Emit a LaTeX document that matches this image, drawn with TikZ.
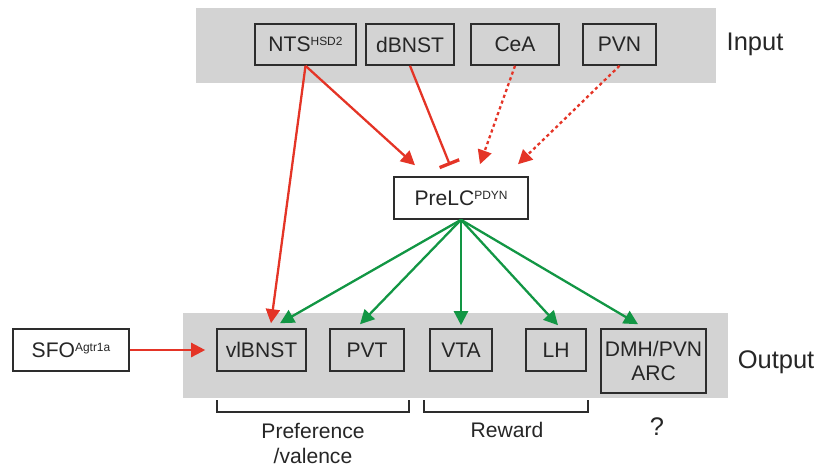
\documentclass[tikz,border=0pt]{standalone}
\usepackage{fontspec}
\setmainfont{Liberation Sans}
\usepackage{xcolor}
\usetikzlibrary{arrows.meta,calc}
\definecolor{bandgray}{RGB}{211,211,211}
\definecolor{edgegray}{RGB}{45,45,45}
\definecolor{exred}{RGB}{228,52,38}
\definecolor{outgreen}{RGB}{18,150,68}
\newcommand\supr[1]{\raisebox{3.4pt}{\fontsize{6.8}{7}\selectfont #1}}

\begin{document}
\begin{tikzpicture}[
  x=0.02cm,y=-0.02cm,
  band/.style={rectangle,fill=bandgray,inner sep=0pt},
  box/.style={rectangle,draw=edgegray,line width=0.9pt,minimum height=0.82cm,inner sep=2pt,align=center,text=black!85,font=\fontsize{12}{13.8}\selectfont},
  lbl/.style={align=center,text=black!85,font=\fontsize{12}{14.6}\selectfont},
  side/.style={text=black!85,font=\fontsize{14.5}{16}\selectfont},
  excit/.style={-{Triangle[length=8pt,width=8pt]},exred,line width=1.3pt},
  inhib/.style={-{Bar[width=12pt,line width=1.9pt]},exred,line width=1.3pt},
  dotarr/.style={excit,dash pattern=on 1.8pt off 1.7pt},
  outarr/.style={-{Triangle[length=8pt,width=8pt]},outgreen,line width=1.3pt},
  brk/.style={draw=edgegray,line width=1pt}
]
\useasboundingbox (0,0) rectangle (824,468);

\node[band,minimum width=10.4cm,minimum height=1.5cm] (inband) at (456,45.5) {};
\node[band,minimum width=10.9cm,minimum height=1.7cm] (outband) at (455.5,355.5) {};

\node[box,minimum width=2.02cm] (nts) at (305.5,44.5) {NTS\supr{HSD2}};
\node[box,minimum width=1.76cm] (dbnst) at (410,44.5) {dBNST};
\node[box,minimum width=1.76cm] (cea) at (515,44.5) {CeA};
\node[box,minimum width=1.46cm] (pvn) at (619.5,44.5) {PVN};
\node[side] (inlabel) at (755,44) {Input};

\node[box,fill=white,minimum width=2.68cm,minimum height=0.84cm] (prelc) at (461,198) {PreLC\supr{PDYN}};

\node[box,fill=white,minimum width=2.32cm,minimum height=0.84cm] (sfo) at (71,350) {SFO\supr{Agtr1a}};
\node[box,minimum width=1.78cm,minimum height=0.84cm] (vlbnst) at (261.5,350) {vlBNST};
\node[box,minimum width=1.48cm,minimum height=0.84cm] (pvt) at (367,350) {PVT};
\node[box,minimum width=1.24cm,minimum height=0.84cm] (vta) at (461,350) {VTA};
\node[box,minimum width=1.2cm,minimum height=0.84cm] (lh) at (556,350) {LH};
\node[box,minimum width=2.1cm,minimum height=1.28cm] (dmh) at (653.5,361) {DMH/PVN\\ARC};
\node[side] (outlabel) at (776,362) {Output};

\draw[brk] (217,400) -- (217,412) -- (409,412) -- (409,400);
\draw[brk] (424,400) -- (424,412) -- (588,412) -- (588,400);
\node[lbl] (pref) at (313,443.5) {Preference\\/valence};
\node[lbl] (reward) at (507,430) {Reward};
\node[side] (unknown) at (657,427) {?};

\draw[excit] (nts.south) -- ($(vlbnst.north)+(9.5,-5)$);
\draw[excit] (nts.south) -- ($(prelc.north)+(-46,-11)$);
\draw[inhib] (dbnst.south) -- ($(prelc.north)+(-11,-11)$);
\draw[dotarr] (cea.south) -- ($(prelc.north)+(19,-12)$);
\draw[dotarr] (pvn.south) -- ($(prelc.north)+(57,-12)$);
\draw[excit,shorten >=0.22cm] (sfo.east) -- (vlbnst.west);

\draw[outarr] (prelc.south) -- ($(vlbnst.north)+(18.5,-5)$);
\draw[outarr] (prelc.south) -- ($(pvt.north)+(-7,-4)$);
\draw[outarr] (prelc.south) -- ($(vta.north)+(0,-3)$);
\draw[outarr] (prelc.south) -- ($(lh.north)+(2,-3)$);
\draw[outarr] (prelc.south) -- ($(dmh.north)+(-15.5,-4)$);
\end{tikzpicture}
\end{document}
